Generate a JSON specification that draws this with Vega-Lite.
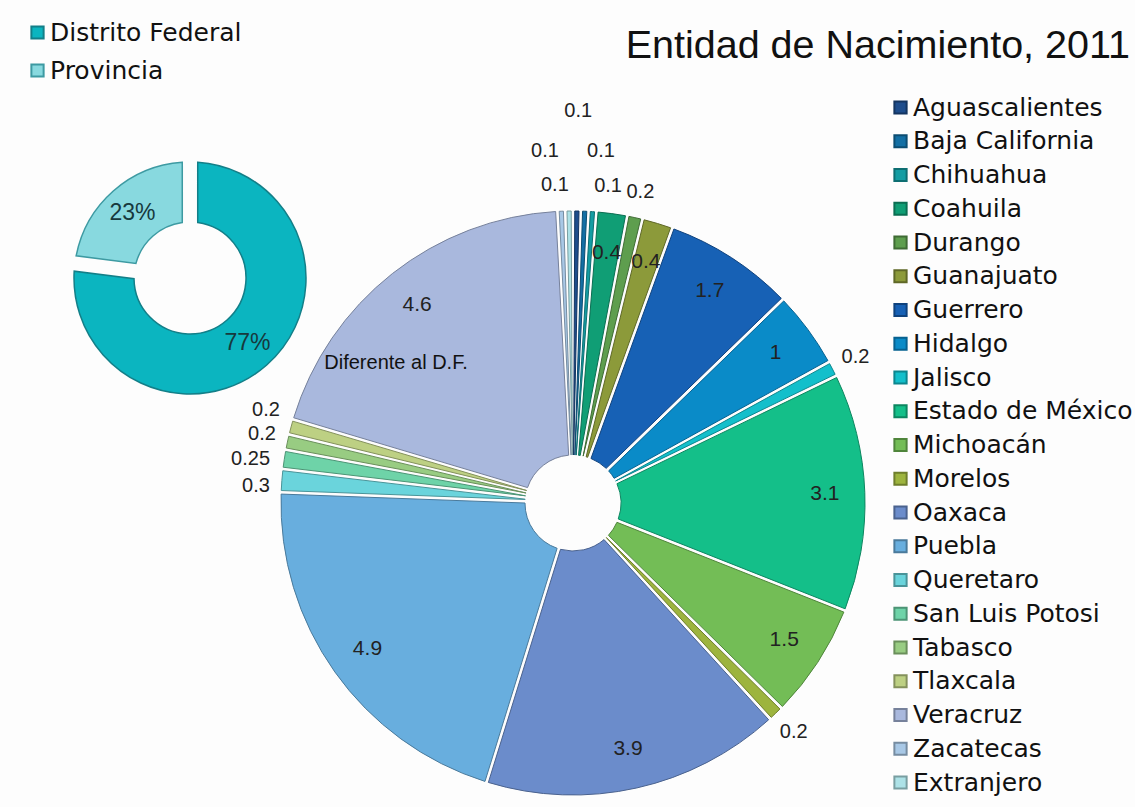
{
  "$schema": "https://vega.github.io/schema/vega-lite/v6.json",
  "autosize": {"type": "none"},
  "width": 1135,
  "height": 807,
  "padding": 0,
  "background": "#fdfdfd",
  "config": {"view": {"stroke": null}, "font": "Liberation Sans", "text": {"font": "Liberation Sans", "fontSize": 20, "fill": "#222222"}},
  "title": {
    "text": "Entidad de Nacimiento, 2011",
    "anchor": "end",
    "frame": "group",
    "font": "Liberation Sans",
    "fontSize": 39.5,
    "fontWeight": "normal",
    "color": "#111111",
    "offset": -66,
    "dx": -5
  },
  "resolve": {
    "scale": {"theta": "independent", "color": "independent", "stroke": "independent"},
    "legend": {"color": "independent", "stroke": "independent"}
  },
  "layer": [
    {
      "data": {
        "values": [
          {"grafica": "Lugar", "lugar": "Distrito Federal", "porcentaje": 77, "orden": 1, "etiqueta": "77%"},
          {"grafica": "Lugar", "lugar": "Provincia", "porcentaje": 23, "orden": 2, "etiqueta": "23%"}
        ]
      },
      "encoding": {
        "x": {"field": "grafica", "type": "nominal", "scale": {"type": "point", "domain": ["Lugar", "Entidad"], "range": [190, 573], "padding": 0}, "axis": null},
        "y": {"field": "grafica", "type": "nominal", "scale": {"type": "point", "domain": ["Lugar", "Entidad"], "range": [278, 503], "padding": 0}, "axis": null},
        "theta": {"field": "porcentaje", "type": "quantitative", "stack": true},
        "order": {"field": "orden", "type": "quantitative"}
      },
      "layer": [
        {
          "mark": {"type": "arc", "outerRadius": 116, "innerRadius": 56, "padAngle": 0.12, "strokeWidth": 1.5},
          "encoding": {
            "color": {
              "field": "lugar", "type": "nominal",
              "scale": {"domain": ["Distrito Federal", "Provincia"], "range": ["#0bb5c0", "#88d9df"]},
              "legend": {"title": null, "orient": "none", "legendX": 25, "legendY": 20, "symbolType": "square", "symbolSize": 150, "symbolStrokeWidth": 2, "labelFont": "DejaVu Sans", "labelFontSize": 25, "labelColor": "#111111", "labelOffset": 0, "rowPadding": 12, "padding": 0, "labelLimit": 400}
            },
            "stroke": {
              "field": "lugar", "type": "nominal",
              "scale": {"domain": ["Distrito Federal", "Provincia"], "range": ["#137f88", "#3d9aa2"]},
              "legend": {"title": null, "orient": "none", "legendX": 25, "legendY": 20, "symbolType": "square", "symbolSize": 150, "symbolStrokeWidth": 2, "labelFont": "DejaVu Sans", "labelFontSize": 25, "labelColor": "#111111", "labelOffset": 0, "rowPadding": 12, "padding": 0, "labelLimit": 400}
            }
          }
        },
        {
          "mark": {"type": "text", "radius": 87, "fontSize": 23, "fill": "#17393d"},
          "encoding": {
            "text": {"field": "etiqueta", "type": "nominal"},
            "detail": {"field": "lugar", "type": "nominal"}
          }
        }
      ]
    },
    {
      "data": {
        "values": [
          {"grafica": "Entidad", "estado": "Aguascalientes", "valor": 0.1, "orden": 1, "nota": ""},
          {"grafica": "Entidad", "estado": "Baja California", "valor": 0.1, "orden": 2, "nota": ""},
          {"grafica": "Entidad", "estado": "Chihuahua", "valor": 0.1, "orden": 3, "nota": ""},
          {"grafica": "Entidad", "estado": "Coahuila", "valor": 0.4, "orden": 4, "nota": ""},
          {"grafica": "Entidad", "estado": "Durango", "valor": 0.2, "orden": 5, "nota": ""},
          {"grafica": "Entidad", "estado": "Guanajuato", "valor": 0.4, "orden": 6, "nota": ""},
          {"grafica": "Entidad", "estado": "Guerrero", "valor": 1.7, "orden": 7, "nota": ""},
          {"grafica": "Entidad", "estado": "Hidalgo", "valor": 1, "orden": 8, "nota": ""},
          {"grafica": "Entidad", "estado": "Jalisco", "valor": 0.2, "orden": 9, "nota": ""},
          {"grafica": "Entidad", "estado": "Estado de México", "valor": 3.1, "orden": 10, "nota": ""},
          {"grafica": "Entidad", "estado": "Michoacán", "valor": 1.5, "orden": 11, "nota": ""},
          {"grafica": "Entidad", "estado": "Morelos", "valor": 0.2, "orden": 12, "nota": ""},
          {"grafica": "Entidad", "estado": "Oaxaca", "valor": 3.9, "orden": 13, "nota": ""},
          {"grafica": "Entidad", "estado": "Puebla", "valor": 4.9, "orden": 14, "nota": ""},
          {"grafica": "Entidad", "estado": "Queretaro", "valor": 0.3, "orden": 15, "nota": ""},
          {"grafica": "Entidad", "estado": "San Luis Potosi", "valor": 0.25, "orden": 16, "nota": ""},
          {"grafica": "Entidad", "estado": "Tabasco", "valor": 0.2, "orden": 17, "nota": ""},
          {"grafica": "Entidad", "estado": "Tlaxcala", "valor": 0.2, "orden": 18, "nota": ""},
          {"grafica": "Entidad", "estado": "Veracruz", "valor": 4.6, "orden": 19, "nota": "Diferente al D.F."},
          {"grafica": "Entidad", "estado": "Zacatecas", "valor": 0.1, "orden": 20, "nota": ""},
          {"grafica": "Entidad", "estado": "Extranjero", "valor": 0.1, "orden": 21, "nota": ""}
        ]
      },
      "encoding": {
        "x": {"field": "grafica", "type": "nominal", "scale": {"type": "point", "domain": ["Lugar", "Entidad"], "range": [190, 573], "padding": 0}, "axis": null},
        "y": {"field": "grafica", "type": "nominal", "scale": {"type": "point", "domain": ["Lugar", "Entidad"], "range": [278, 503], "padding": 0}, "axis": null},
        "theta": {"field": "valor", "type": "quantitative", "stack": true},
        "order": {"field": "orden", "type": "quantitative"},
        "detail": {"field": "estado", "type": "nominal"}
      },
      "layer": [
        {
          "mark": {"type": "arc", "outerRadius": 292, "innerRadius": 48, "padAngle": 0.012, "strokeWidth": 1},
          "encoding": {
            "color": {
              "field": "estado", "type": "nominal",
              "scale": {
                "domain": ["Aguascalientes", "Baja California", "Chihuahua", "Coahuila", "Durango", "Guanajuato", "Guerrero", "Hidalgo", "Jalisco", "Estado de México", "Michoacán", "Morelos", "Oaxaca", "Puebla", "Queretaro", "San Luis Potosi", "Tabasco", "Tlaxcala", "Veracruz", "Zacatecas", "Extranjero"],
                "range": ["#1e4d8c", "#136fa4", "#139da3", "#109e75", "#5e9e4e", "#8c9a3a", "#1761b5", "#0a8bc8", "#13bfcb", "#14bf89", "#73bd56", "#9db43e", "#6b8ccb", "#68aede", "#6ad4dc", "#6ed3a8", "#98cc82", "#bdd083", "#a9b8dd", "#a8c8e6", "#ade2e7"]
              },
              "legend": {"title": null, "orient": "none", "legendX": 888, "legendY": 95, "symbolType": "square", "symbolSize": 150, "symbolStrokeWidth": 2, "labelFont": "DejaVu Sans", "labelFontSize": 25, "labelColor": "#111111", "labelOffset": 0, "rowPadding": 7.75, "padding": 0, "labelLimit": 400}
            },
            "stroke": {
              "field": "estado", "type": "nominal",
              "scale": {
                "domain": ["Aguascalientes", "Baja California", "Chihuahua", "Coahuila", "Durango", "Guanajuato", "Guerrero", "Hidalgo", "Jalisco", "Estado de México", "Michoacán", "Morelos", "Oaxaca", "Puebla", "Queretaro", "San Luis Potosi", "Tabasco", "Tlaxcala", "Veracruz", "Zacatecas", "Extranjero"],
                "range": ["#143560", "#0c4d72", "#0d6e72", "#0b6e52", "#3f6b34", "#5f6827", "#0f427d", "#066190", "#0c868e", "#0d8660", "#4f853b", "#6e7e2b", "#4a628e", "#4a7a9b", "#4a9499", "#4c9475", "#6a8f5b", "#84915c", "#76819b", "#768ca1", "#799ea1"]
              },
              "legend": {"title": null, "orient": "none", "legendX": 888, "legendY": 95, "symbolType": "square", "symbolSize": 150, "symbolStrokeWidth": 2, "labelFont": "DejaVu Sans", "labelFontSize": 25, "labelColor": "#111111", "labelOffset": 0, "rowPadding": 7.75, "padding": 0, "labelLimit": 400}
            }
          }
        },
        {
          "mark": {"type": "text", "radius": 252, "fontSize": 21},
          "encoding": {
            "text": {"field": "valor", "type": "nominal"},
            "opacity": {"condition": {"test": "datum.valor >= 0.4", "value": 1}, "value": 0}
          }
        },
        {
          "mark": {"type": "text", "radius": 318},
          "encoding": {
            "text": {"field": "valor", "type": "nominal"},
            "opacity": {"condition": {"test": "datum.valor < 0.4 && indexof([1, 2, 3, 15, 16, 17, 18, 20, 21], datum.orden) < 0", "value": 1}, "value": 0}
          }
        },
        {
          "mark": {"type": "text", "radius": 318, "align": "left"},
          "encoding": {
            "text": {"field": "valor", "type": "nominal"},
            "opacity": {"condition": {"test": "datum.orden == 3", "value": 1}, "value": 0}
          }
        },
        {
          "mark": {"type": "text", "radius": 318, "align": "right"},
          "encoding": {
            "text": {"field": "valor", "type": "nominal"},
            "opacity": {"condition": {"test": "datum.orden == 21", "value": 1}, "value": 0}
          }
        },
        {
          "mark": {"type": "text", "radius": 352, "align": "left"},
          "encoding": {
            "text": {"field": "valor", "type": "nominal"},
            "opacity": {"condition": {"test": "datum.orden == 2", "value": 1}, "value": 0}
          }
        },
        {
          "mark": {"type": "text", "radius": 352, "align": "right"},
          "encoding": {
            "text": {"field": "valor", "type": "nominal"},
            "opacity": {"condition": {"test": "datum.orden == 20", "value": 1}, "value": 0}
          }
        },
        {
          "mark": {"type": "text", "radius": 392},
          "encoding": {
            "text": {"field": "valor", "type": "nominal"},
            "opacity": {"condition": {"test": "datum.orden == 1", "value": 1}, "value": 0}
          }
        },
        {
          "mark": {"type": "text", "radius": 318, "dy": 7},
          "encoding": {
            "text": {"field": "valor", "type": "nominal"},
            "opacity": {"condition": {"test": "datum.orden == 15", "value": 1}, "value": 0}
          }
        },
        {
          "mark": {"type": "text", "radius": 318, "dy": 4, "dx": -8},
          "encoding": {
            "text": {"field": "valor", "type": "nominal"},
            "opacity": {"condition": {"test": "datum.orden == 16", "value": 1}, "value": 0}
          }
        },
        {
          "mark": {"type": "text", "radius": 318, "dy": -3},
          "encoding": {
            "text": {"field": "valor", "type": "nominal"},
            "opacity": {"condition": {"test": "datum.orden == 17", "value": 1}, "value": 0}
          }
        },
        {
          "mark": {"type": "text", "radius": 318, "dy": -10},
          "encoding": {
            "text": {"field": "valor", "type": "nominal"},
            "opacity": {"condition": {"test": "datum.orden == 18", "value": 1}, "value": 0}
          }
        },
        {
          "mark": {"type": "text", "radius": 215, "dx": -44, "dy": 29, "fill": "#111111"},
          "encoding": {
            "text": {"field": "nota", "type": "nominal"}
          }
        }
      ]
    }
  ]
}
